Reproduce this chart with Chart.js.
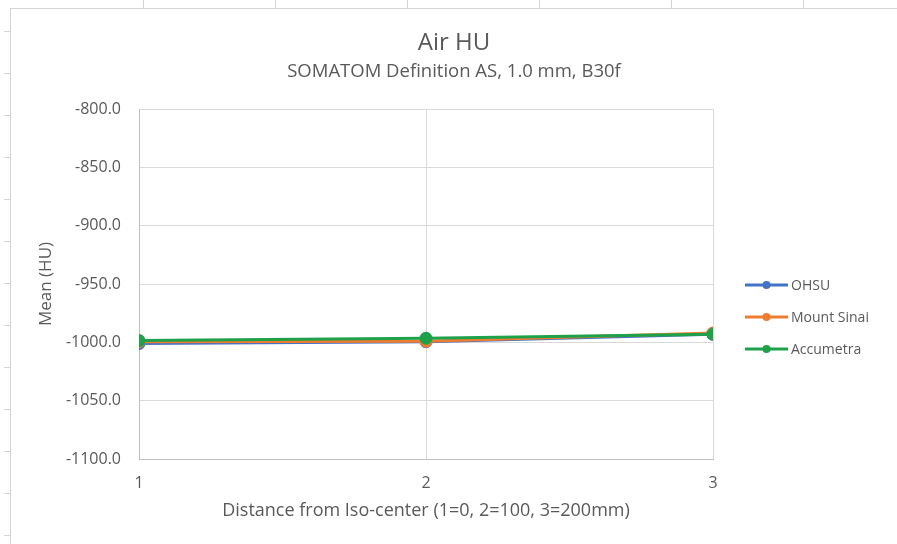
<!DOCTYPE html>
<html>
<head>
<meta charset="utf-8">
<script src="https://cdn.jsdelivr.net/npm/chart.js@4/dist/chart.umd.min.js"></script>
<style>
  body { margin: 0; background: #fff; width: 897px; height: 544px; overflow: hidden; position: relative; }
  .col { position: absolute; top: 0; height: 9px; width: 1px; background: #d4d4d4; }
  .row { position: absolute; left: 4px; width: 6px; height: 1px; background: #d4d4d4; }
  #wrap { position: absolute; left: 10px; top: 8px; width: 886px; height: 535px; border-left: 1px solid #d4d4d4; border-top: 1px solid #d4d4d4; }
</style>
</head>
<body>
<div class="col" style="left:143px"></div>
<div class="col" style="left:275px"></div>
<div class="col" style="left:407px"></div>
<div class="col" style="left:539px"></div>
<div class="col" style="left:671px"></div>
<div class="col" style="left:803px"></div>
<div id="rows"></div>
<div id="wrap"><canvas id="airChart" width="886" height="535"></canvas></div>
<script>
// row markers down the left edge of the sheet
const rows = document.getElementById('rows');
for (let y = 31; y < 544; y += 42) {
    rows.innerHTML += `<div class="row" style="top:${y}px"></div>`;
}

// Mean HU at each distance
const positions = [1, 2, 3];
const ohsu = [-1001, -999.5, -993];
const mountSinai = [-999.5, -999, -992];
const accumetra = [-998.5, -996.5, -993];
const yTicks = [-1100, -1050, -1000, -950, -900, -850, -800];

const seriesNames = ['OHSU', 'Mount Sinai', 'Accumetra'];
const seriesColors = ['#4472C4', '#ED7D31', '#1FA14A'];
const seriesValues = [ohsu, mountSinai, accumetra];

const FONT = 'Open Sans';
const GREY = '#595959';

// empty box on the right so the plot leaves room for the legend
const legendSpace = {
    id: 'legendSpace',
    beforeInit(chart) {
        Chart.layouts.addBox(chart, {
            position: 'right',
            weight: 500,
            fullSize: false,
            options: {},
            left: 0, top: 0, right: 0, bottom: 0, width: 0, height: 0,
            update(maxWidth, maxHeight) { this.width = 184; this.height = maxHeight; },
            isHorizontal() { return false; },
            draw() {}
        });
    }
};

// line + dot legend, Excel style
const lineLegend = {
    id: 'lineLegend',
    afterDraw(chart) {
        const c = chart.ctx;
        const x0 = chart.chartArea.right + 32;
        let y = chart.chartArea.top + 176;
        c.save();
        c.font = `14px "${FONT}"`;
        c.textBaseline = 'middle';
        chart.data.datasets.forEach(ds => {
            c.strokeStyle = ds.borderColor;
            c.lineWidth = 3;
            c.beginPath();
            c.moveTo(x0, y);
            c.lineTo(x0 + 43, y);
            c.stroke();
            c.fillStyle = ds.borderColor;
            c.beginPath();
            c.arc(x0 + 21.5, y, 4, 0, Math.PI * 2);
            c.fill();
            c.fillStyle = GREY;
            c.fillText(ds.label, x0 + 46, y + 1);
            y += 32;
        });
        c.restore();
    }
};

new Chart(document.getElementById('airChart'), {
    type: 'line',
    data: {
        datasets: seriesNames.map((name, i) => ({
            label: name,
            data: positions.map((p, j) => ({ x: p, y: seriesValues[i][j] })),
            borderColor: seriesColors[i],
            backgroundColor: seriesColors[i],
            borderWidth: 3,
            pointRadius: 5,
            pointHoverRadius: 5,
            order: seriesNames.length - i
        }))
    },
    options: {
        responsive: false,
        animation: false,
        layout: { padding: { left: 0, right: 0, top: 20, bottom: 0 } },
        plugins: {
            legend: { display: false },
            tooltip: { enabled: false },
            title: {
                display: true,
                text: 'Air HU',
                color: GREY,
                font: { family: FONT, size: 24, weight: 'normal', lineHeight: 1.2 },
                padding: { top: 0, bottom: 3 }
            },
            subtitle: {
                display: true,
                text: 'SOMATOM Definition AS, 1.0 mm, B30f',
                color: GREY,
                font: { family: FONT, size: 18.5, lineHeight: 1.2 },
                padding: { top: 0, bottom: 26 }
            }
        },
        scales: {
            x: {
                type: 'linear',
                min: 1,
                max: 3,
                afterFit: axis => { axis.height = 85; },
                ticks: { stepSize: 1, color: GREY, font: { family: FONT, size: 16 }, padding: 15 },
                grid: { color: '#d9d9d9', drawTicks: false },
                border: { color: '#bfbfbf' },
                title: {
                    display: true,
                    text: 'Distance from Iso-center (1=0, 2=100, 3=200mm)',
                    color: GREY,
                    font: { family: FONT, size: 18, lineHeight: 1.2 },
                    padding: { top: 0, bottom: 22 }
                }
            },
            y: {
                min: -1100,
                max: -800,
                afterBuildTicks: axis => { axis.ticks = yTicks.map(v => ({ value: v })); },
                afterFit: axis => { axis.width = 128; },
                ticks: { color: GREY, font: { family: FONT, size: 16 }, padding: 18, callback: v => v.toFixed(1) },
                grid: { color: '#d9d9d9', drawTicks: false },
                border: { color: '#bfbfbf' },
                title: {
                    display: true,
                    text: 'Mean (HU)',
                    color: GREY,
                    font: { family: FONT, size: 17, lineHeight: 1.2 },
                    padding: { top: 25, bottom: 0 }
                }
            }
        }
    },
    plugins: [legendSpace, lineLegend]
});
</script>
</body>
</html>
